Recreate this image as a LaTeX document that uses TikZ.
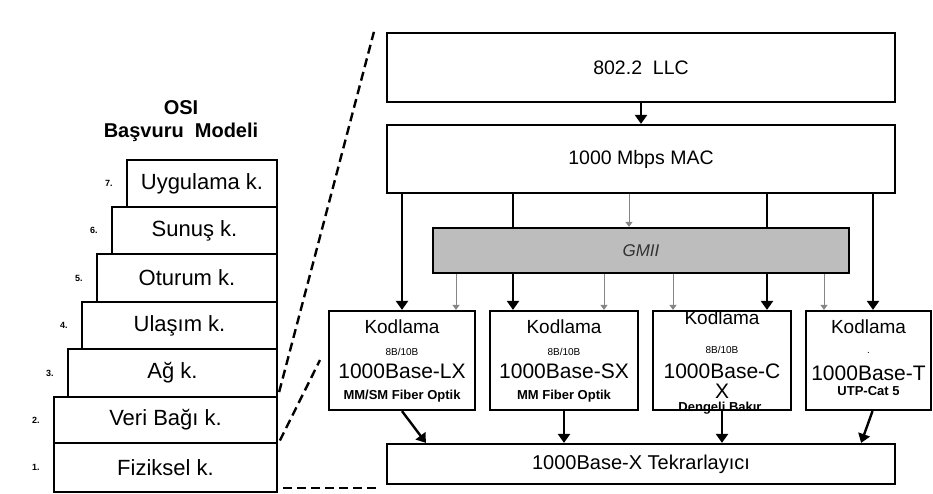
\documentclass[tikz,border=0pt]{standalone}
\usepackage{fontspec}
\setmainfont{Liberation Sans}
\usetikzlibrary{arrows.meta}
\definecolor{gmiigray}{HTML}{BDBDBD}
\definecolor{thingray}{HTML}{858585}

\begin{document}
\begin{tikzpicture}[x=1pt,y=-1pt,
  layer/.style={draw,line width=2.2pt,inner sep=0pt,font=\fontsize{22}{25}\selectfont},
  num/.style={inner sep=0pt,font=\bfseries\fontsize{9}{10}\selectfont},
  bigbox/.style={draw,line width=2.2pt,inner sep=0pt,minimum width=508pt,
    font=\fontsize{19.5}{22}\selectfont},
  kodbox/.style={draw,line width=2.2pt,inner sep=0pt,minimum height=99pt},
  kod/.style={inner sep=0pt,font=\fontsize{19}{22}\selectfont},
  enc/.style={inner sep=0pt,font=\fontsize{10}{12}\selectfont},
  base/.style={inner sep=0pt,font=\fontsize{21}{24}\selectfont},
  medium/.style={inner sep=0pt,font=\bfseries\fontsize{13}{15}\selectfont},
  bigarrow/.style={line width=2.4pt,-{Triangle[width=12pt,length=9pt]}},
  thinarrow/.style={thingray,line width=1pt,-{Triangle[width=7pt,length=5pt]}},
  zoomline/.style={line width=2.4pt,dash pattern=on 9pt off 5pt}
]
  \useasboundingbox (0,0) rectangle (933,493);

  % OSI stack
  \node[inner sep=0pt,font=\bfseries\fontsize{20}{23}\selectfont] (osi) at (181,108) {OSI};
  \node[inner sep=0pt,font=\bfseries\fontsize{20}{23}\selectfont] (ref) at (181,132) {Başvuru\ \ Modeli};
  \foreach \n/\l/\t/\b/\txt in {7/127/160/207/Uygulama k.,6/112/207/254/Sunuş k.,
      5/97/254/302/Oturum k.,4/82/302/349/Ulaşım k.,3/68/349/397/Ağ k.,
      2/54/397/443/Veri Bağı k.,1/54/443/492/Fiziksel k.}
  {
    \node[layer,minimum width={(277-\l)*1pt},minimum height={(\b-\t)*1pt}]
      (L\n) at ({(\l+277)/2},{(\t+\b)/2}) {\txt};
    \node[num] (n\n) at ([xshift=-17pt]L\n.west) {\n.};
  }

  % Gigabit Ethernet layers
  \node[bigbox,minimum height=69pt] (llc) at (641,67.5) {802.2\ \ LLC};
  \node[bigbox,minimum height=68pt] (mac) at (641,159) {1000 Mbps MAC};
  \node[kodbox,minimum width=146pt] (K1) at (402,360.5) {};
  \node[kodbox,minimum width=148pt] (K2) at (564,360.5) {};
  \node[kodbox,minimum width=138pt] (K3) at (722,360.5) {};
  \node[kodbox,minimum width=125pt] (K4) at (868.5,360.5) {};
  \node[bigbox,minimum height=40pt,font=\fontsize{20}{23}\selectfont] (rep) at (641,464)
    {1000Base-X Tekrarlayıcı};

  \node[kod] (k1a) at (402,327) {Kodlama};
  \node[enc] (k1b) at (402,352) {8B/10B};
  \node[base] (k1c) at (402,371) {1000Base-LX};
  \node[medium] (k1d) at (402,396) {MM/SM Fiber Optik};

  \node[kod] (k2a) at (564,327) {Kodlama};
  \node[enc] (k2b) at (564,352) {8B/10B};
  \node[base] (k2c) at (564,371) {1000Base-SX};
  \node[medium] (k2d) at (564,396) {MM Fiber Optik};

  \node[kod] (k3a) at (722,318) {Kodlama};
  \node[enc] (k3b) at (722,350) {8B/10B};
  \node[base] (k3c) at (722,371) {1000Base-C};
  \node[base] (k3d) at (722,391) {X};
  \node[medium] (k3e) at (720,408) {Dengeli Bakır};

  \node[kod] (k4a) at (868.5,327) {Kodlama};
  \node[enc] (k4b) at (868.5,353) {.};
  \node[base] (k4c) at (868.5,373) {1000Base-T};
  \node[medium] (k4d) at (868.5,391) {UTP-Cat 5};

  % MAC to coding, drawn under GMII
  \coordinate (c2) at (513,0);
  \coordinate (c3) at (767,0);
  \coordinate (c4) at (873,0);
  \draw[bigarrow] (llc) -- (mac);
  \draw[bigarrow] (mac.south -| K1.north) -- (K1.north);
  \draw[bigarrow] (mac.south -| c2) -- (K2.north -| c2);
  \draw[bigarrow] (mac.south -| c3) -- (K3.north -| c3);
  \draw[bigarrow] (mac.south -| c4) -- (K4.north -| c4);

  \node[draw,line width=2.2pt,fill=gmiigray,minimum width=416pt,minimum height=45pt,
    font=\itshape\fontsize{17}{20}\selectfont,text=black!80] (gmii) at (641,250.5) {GMII};

  \coordinate (g0) at (629,0);
  \draw[thinarrow] (mac.south -| g0) -- (gmii.north -| g0);
  \foreach \gx/\k in {456/K1,604/K2,673/K3,824/K4}
  {
    \coordinate (g\k) at (\gx,0);
    \draw[thinarrow] (gmii.south -| g\k) -- (\k.north -| g\k);
  }

  % coding to repeater
  \draw[bigarrow] (K1.south) -- ([xshift=40pt]rep.north west);
  \draw[bigarrow] (K2.south) -- (K2.south |- rep.north);
  \draw[bigarrow] (K3.south) -- (K3.south |- rep.north);
  \draw[bigarrow] ([xshift=4pt]K4.south) -- ([xshift=-35pt]rep.north east);

  % zoom lines from the data link layer
  \coordinate (zend) at (320,360);
  \draw[zoomline,shorten <=4pt] (L2.north east) -- ([xshift=-12pt]llc.north west);
  \draw[zoomline,shorten <=4pt] (L2.south east) -- (zend);
  \draw[zoomline,shorten <=5pt,shorten >=7pt] ([yshift=5pt]L1.south east)
    -- ([yshift=5pt]L1.south east -| rep.west);
\end{tikzpicture}
\end{document}
